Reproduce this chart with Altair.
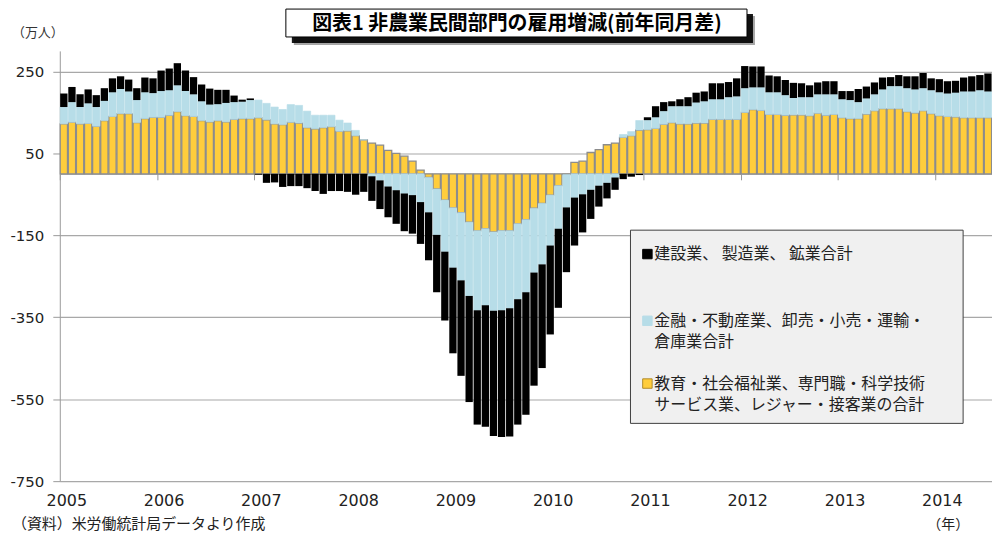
import altair as alt
import pandas as pd

# ---- data (万人, 前年同月差), monthly 2005-01 .. 2014-07 ----
orange_vals = [122, 126, 122, 123, 116, 130, 140, 147, 147, 125, 135, 138,
               138, 143, 152, 142, 140, 130, 127, 130, 127, 133, 135, 135,
               137, 132, 122, 120, 126, 124, 113, 110, 113, 115, 104, 105,
               93, 83, 75, 70, 57, 50, 43, 31, 9, -9, -37, -64,
               -83, -95, -118, -139, -134, -142, -139, -139, -122, -112, -84, -72,
               -52, -29, -2, 28, 31, 52, 59, 71, 75, 89, 93, 107,
               108, 111, 121, 125, 122, 122, 124, 124, 133, 133, 133, 133,
               150, 157, 155, 145, 145, 143, 144, 144, 142, 148, 143, 145,
               137, 135, 135, 146, 154, 159, 159, 159, 152, 149, 154, 147,
               142, 140, 139, 137, 137, 137, 137]
blue_vals = [41, 49, 41, 49, 47, 48, 59, 60, 54, 55, 64, 59,
             64, 61, 64, 60, 54, 47, 42, 40, 46, 42, 41, 45,
             43, 40, 41, 37, 43, 43, 40, 33, 30, 28, 27, 19,
             13, 0, -6, -16, -31, -40, -48, -52, -69, -85, -112, -126,
             -146, -165, -180, -194, -187, -192, -194, -189, -184, -177, -157, -149,
             -123, -105, -80, -58, -50, -39, -29, -22, -9, 7, 10, 23,
             23, 27, 32, 40, 43, 43, 50, 53, 49, 49, 54, 56,
             59, 54, 56, 54, 54, 49, 41, 43, 45, 46, 51, 49,
             45, 45, 40, 38, 40, 47, 55, 55, 57, 57, 55, 57,
             57, 56, 59, 64, 64, 67, 64]
black_vals = [33, 37, 31, 34, 29, 31, 34, 31, 29, 29, 36, 36,
              50, 53, 54, 50, 42, 41, 39, 35, 32, 16, 5, 4,
              -2, -22, -21, -32, -30, -30, -35, -42, -49, -42, -42, -44,
              -51, -44, -60, -70, -75, -82, -92, -94, -102, -117, -140, -168,
              -209, -233, -259, -279, -296, -306, -309, -313, -306, -299, -276, -253,
              -217, -193, -158, -117, -93, -71, -51, -38, -30, -13, -7, -3,
              7, 27, 22, 12, 17, 22, 24, 24, 39, 39, 37, 44,
              54, 51, 51, 41, 39, 37, 37, 34, 29, 29, 32, 32,
              20, 22, 32, 29, 29, 29, 22, 27, 29, 32, 37, 29,
              32, 30, 29, 34, 37, 37, 44]

series_names = [
    "教育・社会福祉業、専門職・科学技術サービス業、レジャー・接客業の合計",
    "金融・不動産業、卸売・小売・運輸・倉庫業合計",
    "建設業、製造業、鉱業合計",
]
legend_lines = [
    ["建設業、 製造業、 鉱業合計"],
    ["金融・不動産業、卸売・小売・運輸・", "倉庫業合計"],
    ["教育・社会福祉業、専門職・科学技術", "サービス業、レジャー・接客業の合計"],
]
y_ticks = [-750, -550, -350, -150, 50, 250]
title_text = "図表1 非農業民間部門の雇用増減(前年同月差)"
unit_text = "（万人）"
source_text = "（資料）米労働統計局データより作成"
year_unit_text = "（年）"

n = len(orange_vals)
months = [f"{2005 + i // 12}-{i % 12 + 1:02d}" for i in range(n)]
jan_months = [m for m in months if m.endswith("-01")]

rows = []
for k, vals in enumerate([orange_vals, blue_vals, black_vals]):
    for m, v in zip(months, vals):
        rows.append({"month": m, "series": series_names[k], "value": v, "ord": k})
df = pd.DataFrame(rows)

ORANGE = "#ffcd3c"
BLUE = "#b7dde8"
BLACK = "#000000"
JP = "Noto Sans CJK JP"
NUM = "DejaVu Sans"

W, H = 936, 432
zero_px = H * 300 / 1050

bars = alt.Chart(df).mark_bar().encode(
    x=alt.X("month:O", sort=months,
            scale=alt.Scale(paddingInner=0.1, paddingOuter=0.05),
            axis=alt.Axis(values=jan_months, labelExpr="slice(datum.value, 0, 4)",
                          bandPosition=0, offset=-(H - zero_px), labelPadding=(H - zero_px) + 5,
                          tickSize=6, tickColor="#999999", domainColor="#999999",
                          labelAngle=0, labelFont=NUM, labelFontSize=16, labelColor="#222222",
                          labelOffset=3, title=None, grid=False)),
    y=alt.Y("value:Q", stack="zero",
            scale=alt.Scale(domain=[-750, 300], nice=False, zero=False),
            axis=alt.Axis(values=y_ticks, tickSize=7, tickColor="#999999",
                          domainColor="#999999", gridColor="#a8a8a8", gridWidth=1.2,
                          labelExpr="datum.value + ''",
                          labelFont=NUM, labelFontSize=15, labelColor="#222222",
                          labelPadding=9, title=None)),
    color=alt.Color("series:N", scale=alt.Scale(domain=series_names,
                                                range=[ORANGE, BLUE, BLACK]), legend=None),
    stroke=alt.Stroke("series:N", scale=alt.Scale(domain=series_names,
                                                  range=["#8c8c8c", BLUE, BLACK]), legend=None),
    strokeWidth=alt.StrokeWidth("series:N", scale=alt.Scale(domain=series_names,
                                                            range=[1.3, 0, 0]), legend=None),
    order=alt.Order("ord:Q", sort="ascending"),
)

one = pd.DataFrame({"a": [0]})


def rect(x, x2, y, y2, **kw):
    return alt.Chart(one).mark_rect(**kw).encode(
        x=alt.value(x), x2=alt.value(x2), y=alt.value(y), y2=alt.value(y2))


def txt(text, x, y, size=15, align="left", weight="normal", font=JP, color="#222222"):
    return alt.Chart(pd.DataFrame({"t": [text]})).mark_text(
        align=align, baseline="middle", fontSize=size, font=font,
        fontWeight=weight, color=color).encode(
        text="t:N", x=alt.value(x), y=alt.value(y))


layers = [bars]

# legend box
layers.append(rect(573, 907, 180, 374, fill="#f0f0f0", stroke="#404040", strokeWidth=1))
sym_colors = [BLACK, BLUE, ORANGE]
sym_strokes = [BLACK, BLUE, "#b08a2a"]
sym_y = [204, 271, 334]
for i in range(3):
    layers.append(alt.Chart(one).mark_square(size=90, opacity=1, fill=sym_colors[i],
                                             stroke=sym_strokes[i], strokeWidth=1).encode(
        x=alt.value(590), y=alt.value(sym_y[i])))
    for j, line in enumerate(legend_lines[i]):
        layers.append(txt(line, 597, sym_y[i] + j * 21.5, size=16))

# title with drop shadow
layers.append(rect(235, 698, -35, -6, fill="#000000", opacity=0.35))
layers.append(rect(233, 696, -37, -8, fill="#000000", opacity=0.9))
layers.append(rect(227, 690, -42, -14, fill="#ffffff", stroke="#000000", strokeWidth=1))
layers.append(txt(title_text, 459, -27, size=20, align="center", weight="bold", color="#000000"))

# other texts
layers.append(txt(unit_text, -48, -18, size=13, color="#333333"))
layers.append(txt(source_text, -48, 475, size=15, color="#222222"))
layers.append(txt(year_unit_text, 892, 476, size=14, align="center", color="#222222"))

chart = alt.layer(*layers).properties(
    width=W, height=H,
    padding={"left": 52, "top": 42, "right": 0, "bottom": 53},
    autosize=alt.AutoSizeParams(type="none"),
).configure_view(stroke=None)

chart.save("out.html", embed_options={"renderer": "svg", "actions": False})
